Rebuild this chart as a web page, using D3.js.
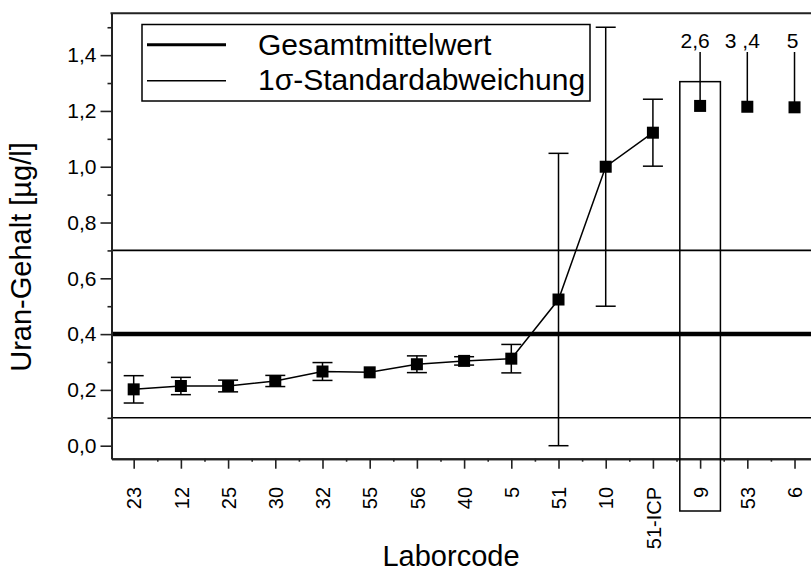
<!DOCTYPE html>
<meta charset="utf-8">
<style>
body {
  margin: 0;
  padding: 0;
  background: #fff;
}
text {
  font-family: "Liberation Sans", Arial, sans-serif;
  fill: #000;
}
</style>
<body>
<script src="https://cdn.jsdelivr.net/npm/d3@7"></script>
<script>

// lab codes along the x axis
var codes = ["23", "12", "25", "30", "32", "55", "56", "40", "5", "51", "10", "51-ICP", "9", "53", "6"];
// uranium content [µg/l]
var values = [0.202, 0.214, 0.214, 0.232, 0.266, 0.263, 0.292, 0.304, 0.312, 0.524, 1.0, 1.122, 1.218, 1.215, 1.213];
// 1 sigma error of each lab (null = none drawn)
var errors = [0.049, 0.031, 0.021, 0.02, 0.032, 0, 0.03, 0.015, 0.051, 0.524, 0.5, 0.12, null, null, null];
// labs that are joined by the line
var joined = ["23", "12", "25", "30", "32", "55", "56", "40", "5", "51", "10", "51-ICP"];
// labs whose real values are off scale, with their value text
var offCodes = ["9", "53", "6"];
var offLabels = ["2,6", "3 ,4", "5"];
var offShown = 1.305;   // top of the box round lab 9

var yTicks = [0, 0.2, 0.4, 0.6, 0.8, 1.0, 1.2, 1.4];
var yMinor = [0.1, 0.3, 0.5, 0.7, 0.9, 1.1, 1.3, 1.5];

var mean = 0.40,
    sigma = 0.30;

var width = 811,
    height = 572;

var svg = d3.select("body").append("svg")
    .attr("width", width)
    .attr("height", height);

var x = d3.scaleLinear().domain([-0.47, 14.9]).range([111.5, 837]);
var y = d3.scaleLinear().domain([-0.0466, 1.55]).range([458.7, 13.3]);

var fmt = function(d) { return d3.format(".1f")(d).replace(".", ","); };

// mean and sigma lines
svg.append("line")
    .attr("x1", x.range()[0]).attr("x2", width)
    .attr("y1", y(mean)).attr("y2", y(mean))
    .style("stroke", "#000").style("stroke-width", 4.5);
[mean - sigma, mean + sigma].forEach(function(v) {
  svg.append("line")
      .attr("x1", x.range()[0]).attr("x2", width)
      .attr("y1", y(v)).attr("y2", y(v))
      .style("stroke", "#000").style("stroke-width", 1.6);
});

// axes
var yAxis = d3.axisLeft(y).tickValues(yTicks).tickFormat(fmt).tickSize(11).tickSizeOuter(0).tickPadding(4);
var yAxisMinor = d3.axisLeft(y).tickValues(yMinor).tickFormat("").tickSize(4).tickSizeOuter(0);
var xAxis = d3.axisBottom(x).tickValues(d3.range(codes.length)).tickFormat(function(i) { return codes[i]; }).tickSize(10).tickSizeOuter(0);
var xAxisMinor = d3.axisBottom(x).tickValues(d3.range(codes.length).map(function(i) { return i + 0.5; })).tickFormat("").tickSize(3).tickSizeOuter(0);

var gy = svg.append("g").attr("transform", "translate(" + x.range()[0] + ",0)").call(yAxis);
svg.append("g").attr("transform", "translate(" + x.range()[0] + ",0)").call(yAxisMinor);
var gx = svg.append("g").attr("transform", "translate(0," + y.range()[0] + ")").call(xAxis);
svg.append("g").attr("transform", "translate(0," + y.range()[0] + ")").call(xAxisMinor);

svg.selectAll(".domain").style("stroke", "#222").style("stroke-width", 2);
svg.selectAll(".tick line").style("stroke", "#222").style("stroke-width", 1.6);

gy.selectAll("text")
    .style("font-size", "21px")
    .style("font-family", "'Liberation Sans', Arial, sans-serif")
    .attr("fill", "#000");

gx.selectAll("text")
    .style("font-size", "20px")
    .style("font-family", "'Liberation Sans', Arial, sans-serif")
    .attr("fill", "#000")
    .attr("text-anchor", "end")
    .attr("transform", "rotate(-90)")
    .attr("x", -(487 - y.range()[0]))
    .attr("y", 0)
    .attr("dy", "0.36em");

// top frame line
svg.append("line")
    .attr("x1", x.range()[0] - 1).attr("x2", width)
    .attr("y1", y.range()[1]).attr("y2", y.range()[1])
    .style("stroke", "#222").style("stroke-width", 2);

// axis titles
svg.append("text")
    .attr("transform", "translate(31,257) rotate(-90)")
    .attr("text-anchor", "middle")
    .style("font-size", "29px")
    .text("Uran-Gehalt [µg/l]");

svg.append("text")
    .attr("x", 451).attr("y", 566)
    .attr("text-anchor", "middle")
    .style("font-size", "29px")
    .text("Laborcode");

// error bars
var cap = 10;
codes.forEach(function(c, i) {
  var e = errors[i];
  if (e === null || e === 0) return;
  var g = svg.append("g").style("stroke", "#000").style("stroke-width", 1.5);
  g.append("line").attr("x1", x(i)).attr("x2", x(i)).attr("y1", y(values[i] + e)).attr("y2", y(values[i] - e));
  g.append("line").attr("x1", x(i) - cap).attr("x2", x(i) + cap).attr("y1", y(values[i] + e)).attr("y2", y(values[i] + e));
  g.append("line").attr("x1", x(i) - cap).attr("x2", x(i) + cap).attr("y1", y(values[i] - e)).attr("y2", y(values[i] - e));
});

// connecting line
var line = d3.line()
    .x(function(c) { return x(codes.indexOf(c)); })
    .y(function(c) { return y(values[codes.indexOf(c)]); });

svg.append("path")
    .datum(joined)
    .attr("d", line)
    .style("fill", "none")
    .style("stroke", "#000")
    .style("stroke-width", 1.5);

// off-scale markers: box, pointer lines, labels
var i9 = codes.indexOf(offCodes[0]);
svg.append("rect")
    .attr("x", x(i9 - 0.43))
    .attr("y", y(offShown))
    .attr("width", x(i9 + 0.43) - x(i9 - 0.43))
    .attr("height", 511 - y(offShown))
    .style("fill", "none")
    .style("stroke", "#000")
    .style("stroke-width", 1.5);

offCodes.forEach(function(c, k) {
  var i = codes.indexOf(c);
  svg.append("line")
      .attr("x1", x(i)).attr("x2", x(i))
      .attr("y1", 52).attr("y2", y(values[i]))
      .style("stroke", "#000").style("stroke-width", 1.5);
  svg.append("text")
      .attr("x", x(i) + (offLabels[k].length > 1 ? -5 : -2))
      .attr("y", 48)
      .attr("text-anchor", "middle")
      .style("font-size", "21px")
      .text(offLabels[k]);
});

// markers
svg.selectAll("rect.pt")
    .data(codes)
  .enter().append("rect")
    .attr("class", "pt")
    .attr("x", function(c, i) { return x(i) - 6; })
    .attr("y", function(c, i) { return y(values[i]) - 6; })
    .attr("width", 12)
    .attr("height", 12)
    .style("fill", "#000");

// legend
var lg = svg.append("g");
lg.append("rect")
    .attr("x", 142).attr("y", 24.5)
    .attr("width", 448).attr("height", 76.5)
    .style("fill", "#fff")
    .style("stroke", "#000")
    .style("stroke-width", 1.5);
lg.append("line")
    .attr("x1", 147).attr("x2", 226).attr("y1", 44.7).attr("y2", 44.7)
    .style("stroke", "#000").style("stroke-width", 3);
lg.append("line")
    .attr("x1", 147).attr("x2", 226).attr("y1", 80.7).attr("y2", 80.7)
    .style("stroke", "#000").style("stroke-width", 1.6);
lg.append("text")
    .attr("x", 258).attr("y", 55)
    .style("font-size", "30px")
    .text("Gesamtmittelwert");
lg.append("text")
    .attr("x", 258).attr("y", 90)
    .style("font-size", "30px")
    .text("1σ-Standardabweichung");

</script>
